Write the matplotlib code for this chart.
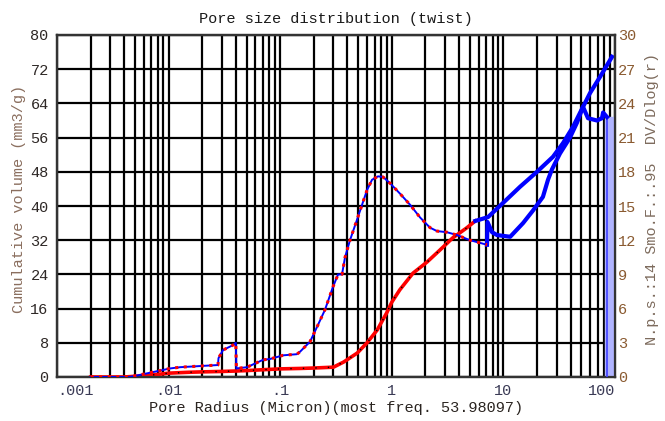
import numpy as np
import matplotlib
matplotlib.use("Agg")
import matplotlib.pyplot as plt
from matplotlib.ticker import LogLocator, NullFormatter

# cumulative volume (mm3/g), left axis
cum_r = [0.002, 0.004, 0.006, 0.008, 0.01, 0.015, 0.02, 0.03, 0.04, 0.05, 0.07,
         0.1, 0.15, 0.2, 0.3, 0.37, 0.49, 0.6, 0.74, 0.9, 1.0, 1.18, 1.55, 2.07,
         2.7, 3.5, 4.7, 5.6]
cum_v = [0, 0, 0.3, 0.6, 0.9, 1.1, 1.2, 1.3, 1.4, 1.5, 1.7, 1.9, 2.0, 2.1, 2.3,
         3.5, 5.6, 8.0, 11.0, 15.0, 17.5, 20.4, 24.3, 26.9, 29.7, 32.5, 34.9, 36.5]
# cumulative, large pores (blue part)
cum2_r = [5.6, 7.28, 9.91, 14.1, 20.0, 27.8, 34.2, 42.0, 51.7, 59.7, 73.4, 94.0]
cum2_v = [36.5, 37.4, 40.7, 44.5, 48.0, 51.5, 54.7, 58.5, 63.2, 66.4, 70.2, 74.9]

# DV/Dlog(r), right axis
dist_r = [0.002, 0.0045, 0.0103, 0.0127, 0.0277, 0.028, 0.0307, 0.0378, 0.040,
          0.0405, 0.0504, 0.070, 0.081, 0.106, 0.141, 0.150, 0.185, 0.214, 0.252,
          0.297, 0.330, 0.358, 0.381, 0.422, 0.488, 0.541, 0.600, 0.665, 0.752,
          0.834, 0.963, 1.18, 1.46, 1.79, 2.20, 2.54, 3.12, 3.84, 5.02, 7.13]
dist_v = [0, 0, 0.75, 0.86, 1.05, 1.65, 2.36, 2.8, 3.0, 0.75, 0.86, 1.5, 1.58,
          1.9, 2.0, 2.2, 3.1, 4.4, 5.9, 7.9, 9.0, 9.0, 10.5, 12.0, 13.8, 15.1,
          16.4, 17.3, 17.6, 17.55, 17.0, 16.1, 15.1, 14.0, 13.1, 12.8, 12.7,
          12.45, 12.0, 11.6]
# DV/Dlog(r), large pores (blue part)
dist2_r = [7.13, 7.2, 7.91, 8.77, 11.5, 15.0, 18.4, 22.6, 25.1, 27.2, 32.1,
           39.5, 45.6, 51.7, 57.3, 69.0, 76.4, 78.2, 84.8]
dist2_v = [11.6, 13.6, 12.7, 12.45, 12.3, 13.5, 14.6, 15.8, 17.3, 18.2, 19.6,
           21.0, 22.3, 23.7, 22.7, 22.5, 22.7, 23.2, 22.8]
most_freq = 84.8
bar_r = [82, 95]

plt.rcParams['font.family'] = ['Liberation Mono', 'DejaVu Sans Mono']

fig = plt.figure(figsize=(6.65, 4.21), dpi=100)
ax = fig.add_axes([57/665, 44/421, 558/665, 342/421])
ax2 = ax.twinx()

ax.set_xscale('log')
ax.set_xlim(0.001, 100)
ax.set_ylim(0, 80)
ax2.set_ylim(0, 30)

# grid
ax.xaxis.set_major_locator(LogLocator(base=10, numticks=10))
ax.xaxis.set_minor_locator(LogLocator(base=10, subs=np.arange(2, 10), numticks=20))
ax.xaxis.set_minor_formatter(NullFormatter())
ax.set_yticks(np.arange(0, 81, 8))
ax2.set_yticks(np.arange(0, 31, 3))
ax.grid(True, which='both', axis='x', color='black', lw=1.6)
ax.grid(True, which='major', axis='y', color='black', lw=1.6)
ax.tick_params(which='both', length=0)
ax2.tick_params(which='both', length=0)
for a in (ax, ax2):
    for s in a.spines.values():
        s.set_color('#333333')
        s.set_linewidth(1.6)

# bar at most frequent radius
ax2.fill_between(bar_r, 0, dist2_v[-1], color='#b0b4ff', zorder=2)
ax2.plot([most_freq, most_freq], [0, dist2_v[-1]], color='#4040ff', lw=1.2, zorder=3)

# cumulative curve
ax.plot(cum_r, cum_v, color='red', lw=2.6, zorder=3)
ax.plot(cum_r, cum_v, color='black', lw=1, ls=(0, (1, 8)), zorder=4)
ax.plot(cum2_r, cum2_v, color='blue', lw=3, zorder=3)

# distribution curve
ax2.plot(dist_r, dist_v, color='blue', lw=1.4, zorder=3)
ax2.plot(dist_r, dist_v, color='red', lw=2.2, ls=(0, (1, 1.8)), zorder=4)
ax2.plot(dist2_r, dist2_v, color='blue', lw=3, zorder=3)

fs = 11
ax.set_xticks([0.001, 0.01, 0.1, 1, 10, 100])
ax.set_xticklabels(['.001', '.01', '.1', '1', '10', '100'], fontsize=fs, color='#3a3a55')
lbls = ax.get_xticklabels()
lbls[0].set_ha('left')
lbls[-1].set_ha('right')
ax.tick_params(axis='x', pad=5)
ax.tick_params(axis='y', labelsize=fs, labelcolor='#2e2826', pad=6)
ax2.tick_params(axis='y', labelsize=fs, labelcolor='#8a5a30', pad=2)

ax.set_title('Pore size distribution (twist)', fontsize=fs, color='#1a1a1a', pad=9)
ax.set_xlabel('Pore Radius (Micron)(most freq. 53.98097)', fontsize=fs, color='#2a2420', labelpad=2)
ax.set_ylabel('Cumulative volume (mm3/g)', fontsize=fs, color='#8a6e5e')
ax.yaxis.set_label_coords(-0.055, 0.52)
ax2.set_ylabel('N.p.s.:14 Smo.F.:.95  DV/Dlog(r)', fontsize=fs, color='#7d6b5d')
ax2.yaxis.set_label_coords(1.054, 0.52)

fig.savefig('out.png', dpi=100)
